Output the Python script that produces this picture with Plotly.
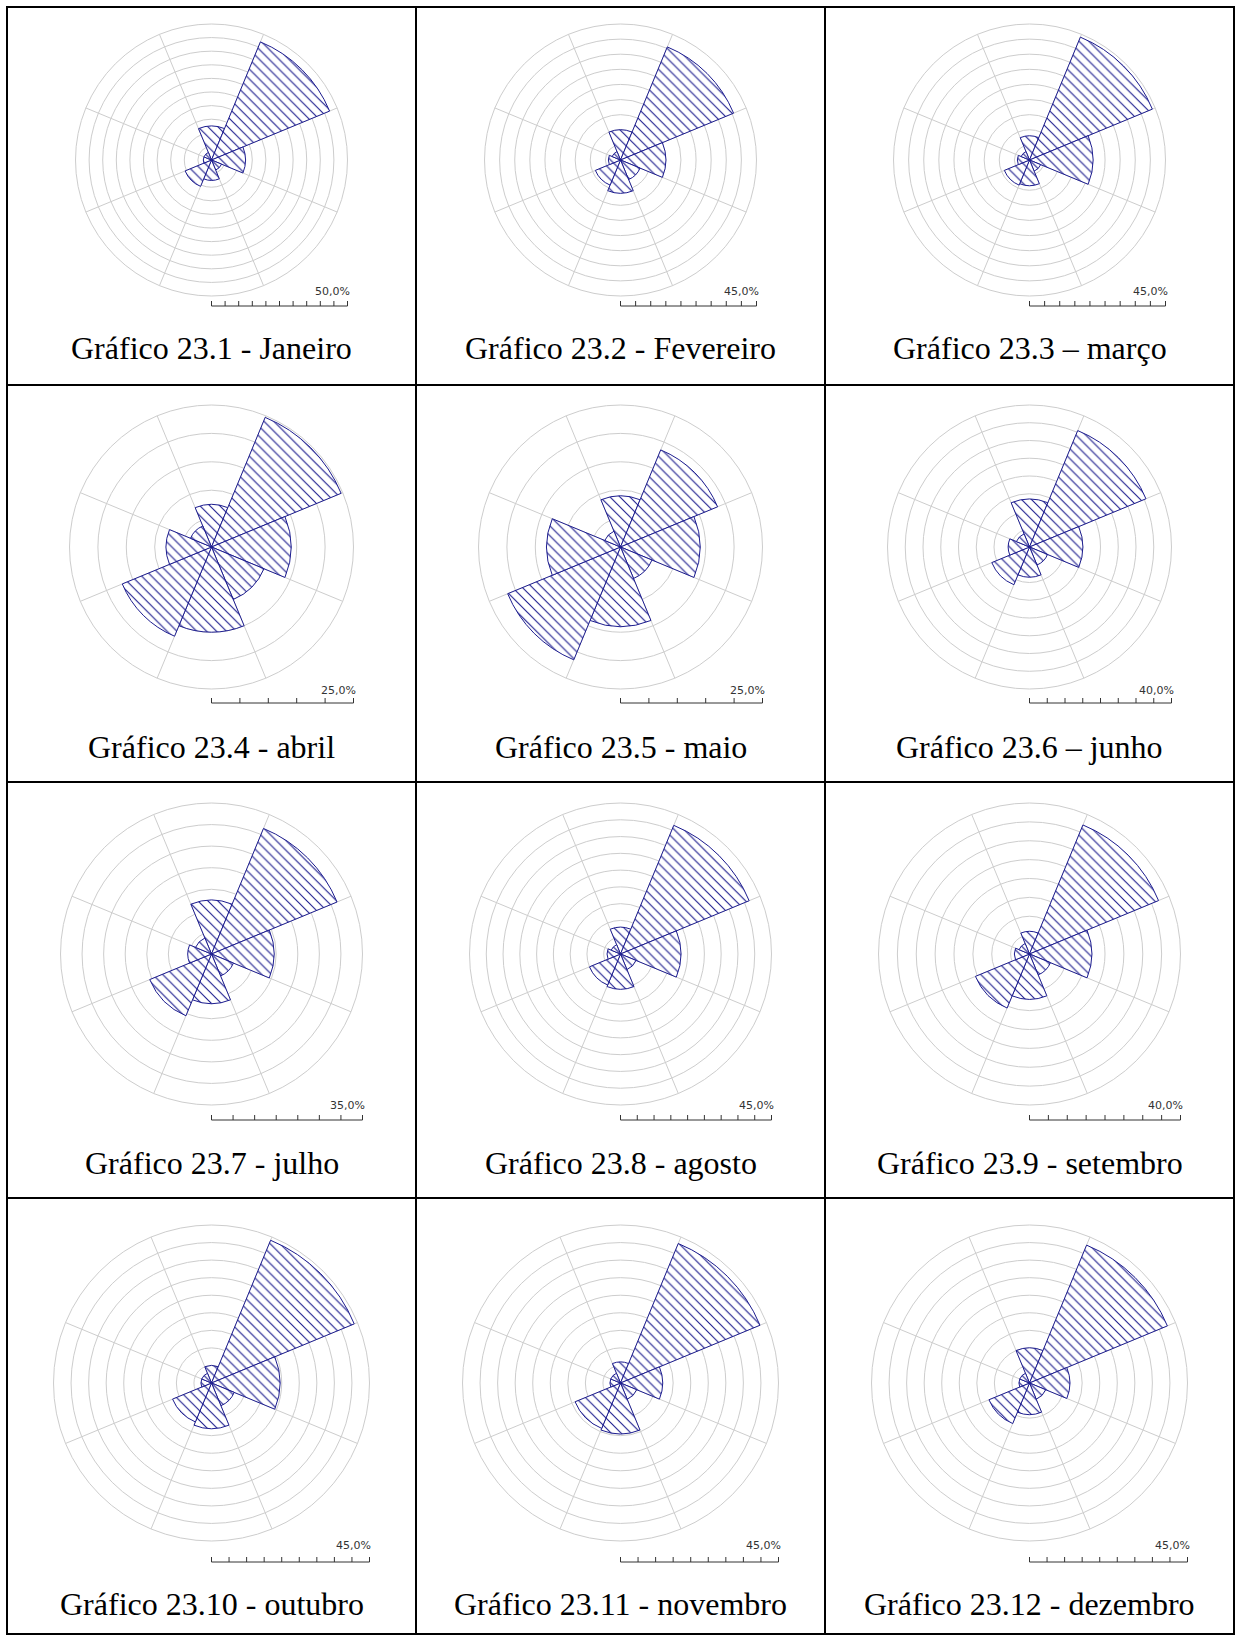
import plotly.graph_objects as go

W, H = 1236, 1635

# ---------------- data ----------------
directions = ["N", "NE", "E", "SE", "S", "SW", "W", "NW"]
dir_angles = [0, 45, 90, 135, 180, 225, 270, 315]

titles = [
    "Gráfico 23.1 - Janeiro", "Gráfico 23.2 - Fevereiro", "Gráfico 23.3 – março",
    "Gráfico 23.4 - abril", "Gráfico 23.5 - maio", "Gráfico 23.6 – junho",
    "Gráfico 23.7 - julho", "Gráfico 23.8 - agosto", "Gráfico 23.9 - setembro",
    "Gráfico 23.10 - outubro", "Gráfico 23.11 - novembro", "Gráfico 23.12 - dezembro",
]
scale_max = [50, 45, 45, 25, 25, 40, 35, 45, 40, 45, 45, 45]
scale_labels = ["50,0%", "45,0%", "45,0%", "25,0%", "25,0%", "40,0%",
                "35,0%", "45,0%", "40,0%", "45,0%", "45,0%", "45,0%"]

# frequencies (%) per direction, order N, NE, E, SE, S, SW, W, NW
janeiro   = [12.5, 47.0, 12.5, 4.0, 7.5, 10.5, 3.0, 3.0]
fevereiro = [10.0, 40.5, 15.0, 7.0, 11.0, 9.0, 4.0, 3.0]
marco     = [8.0, 44.0, 21.0, 4.0, 8.5, 9.0, 4.0, 3.0]
abril     = [7.5, 24.7, 14.0, 10.0, 15.0, 17.0, 8.0, 4.0]
maio      = [9.0, 18.5, 14.0, 6.0, 14.0, 21.5, 13.0, 3.0]
junho     = [13.5, 35.5, 15.0, 5.5, 8.5, 11.5, 6.0, 4.0]
julho     = [12.5, 31.5, 14.5, 5.5, 11.5, 15.5, 5.5, 4.0]
agosto    = [8.0, 41.5, 18.0, 5.0, 10.5, 10.0, 4.0, 3.0]
setembro  = [6.0, 37.0, 16.5, 6.0, 12.0, 15.5, 4.0, 3.0]
outubro   = [5.0, 44.0, 19.5, 7.0, 13.0, 12.0, 3.0, 3.0]
novembro  = [6.0, 43.0, 12.0, 5.0, 14.5, 14.0, 3.0, 3.0]
dezembro  = [10.0, 42.5, 11.5, 5.0, 9.0, 12.5, 3.0, 3.0]

months = [janeiro, fevereiro, marco, abril, maio, junho,
          julho, agosto, setembro, outubro, novembro, dezembro]

# ---------------- layout geometry (pixels) ----------------
col_x = [7, 416, 825, 1234]
row_y = [7, 385, 782, 1198, 1634]
col_c = [211.5, 620.5, 1029.5]
rose_cy = [160, 547, 954, 1383]
rose_R = [136, 142, 151, 158]
bar_y = [306, 703, 1120, 1562]
label_y = [292, 690, 1105, 1545]
caption_y = [348, 747, 1163, 1604]

NAVY = "#1c1c8e"
GRID = "#cdcdcd"


def fx(x):
    return x / W


def fy(y):
    return 1 - y / H


fig = go.Figure()
shapes = []
annotations = []
layout_polars = {}

for i, vals in enumerate(months):
    r, c = divmod(i, 3)
    cx, cy, R = col_c[c], rose_cy[r], rose_R[r]
    name = "polar" if i == 0 else f"polar{i + 1}"
    fig.add_trace(go.Barpolar(
        r=vals, theta=dir_angles, width=[45] * len(vals),
        subplot=name, showlegend=False, hoverinfo="skip",
        marker=dict(
            color="white",
            line=dict(color=NAVY, width=1),
            pattern=dict(shape="\\", fgcolor=NAVY, bgcolor="white",
                         size=7, solidity=0.16, fillmode="replace"),
        ),
    ))
    layout_polars[name] = dict(
        domain=dict(x=[fx(cx - R), fx(cx + R)], y=[fy(cy + R), fy(cy - R)]),
        bgcolor="rgba(0,0,0,0)",
        radialaxis=dict(range=[0, scale_max[i]], dtick=5, showticklabels=False,
                        ticks="", showline=False, gridcolor=GRID, gridwidth=1),
        angularaxis=dict(rotation=90, direction="clockwise", tickmode="array",
                         tickvals=[22.5 + 45 * k for k in range(8)],
                         showticklabels=False, ticks="", showline=True,
                         linecolor=GRID, linewidth=1, gridcolor=GRID, gridwidth=1),
    )
    # scale bar
    by = bar_y[r]
    x0, x1 = cx, cx + R
    shapes.append(dict(type="line", xref="paper", yref="paper",
                       x0=fx(x0), x1=fx(x1), y0=fy(by), y1=fy(by),
                       line=dict(color="#333333", width=1)))
    n = int(round(scale_max[i] / 5))
    for k in range(n + 1):
        tx = x0 + (x1 - x0) * k / n
        shapes.append(dict(type="line", xref="paper", yref="paper",
                           x0=fx(tx), x1=fx(tx), y0=fy(by), y1=fy(by - 5),
                           line=dict(color="#333333", width=1)))
    annotations.append(dict(xref="paper", yref="paper", x=fx(x1 + 4), y=fy(label_y[r]),
                            text=scale_labels[i], showarrow=False,
                            xanchor="right", yanchor="middle",
                            font=dict(family="DejaVu Sans", size=11, color="#333333")))
    annotations.append(dict(xref="paper", yref="paper", x=fx(cx), y=fy(caption_y[r]),
                            text=titles[i], showarrow=False,
                            xanchor="center", yanchor="middle",
                            font=dict(family="Liberation Serif", size=32, color="black")))

# table borders
for x in col_x:
    shapes.append(dict(type="line", xref="paper", yref="paper",
                       x0=fx(x), x1=fx(x), y0=fy(row_y[0] - 1), y1=fy(row_y[-1] + 1),
                       line=dict(color="black", width=2)))
for y in row_y:
    shapes.append(dict(type="line", xref="paper", yref="paper",
                       x0=fx(col_x[0] - 1), x1=fx(col_x[-1] + 1), y0=fy(y), y1=fy(y),
                       line=dict(color="black", width=2)))

fig.update_layout(
    width=W, height=H,
    margin=dict(l=0, r=0, t=0, b=0),
    paper_bgcolor="white", plot_bgcolor="white",
    shapes=shapes, annotations=annotations,
    **layout_polars,
)

fig.write_html(
    "out.html",
    config={"displayModeBar": False},
    post_script="document.body.style.margin='0px';document.body.style.padding='0px';"
                "document.body.style.overflow='hidden';",
)
